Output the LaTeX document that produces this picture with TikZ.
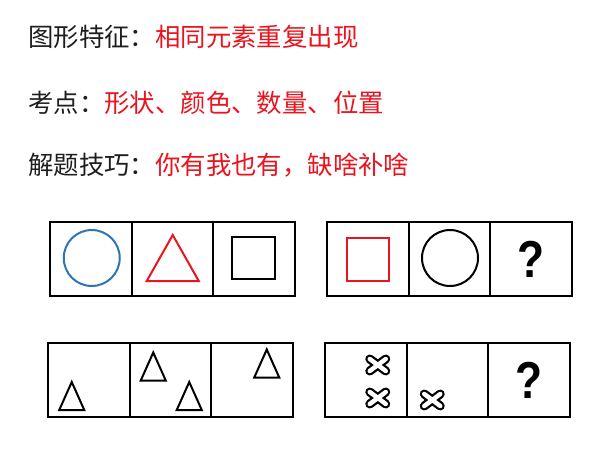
\documentclass[tikz,border=0pt]{standalone}
\usepackage{fontspec}
\newfontfamily\cjk{Noto Sans CJK SC}
\newfontfamily\qfont{Liberation Sans}
\usetikzlibrary{positioning}
\definecolor{hintred}{HTML}{E8141E}
\definecolor{circblue}{HTML}{2E75B6}
\definecolor{inkgray}{HTML}{1E1E1E}

\begin{document}
\begin{tikzpicture}[
            x = 1pt, y = -1pt, % pixel grid, y downwards
            line join = miter,
            cell/.style = {
                draw = black,
                line width = 2pt,
                minimum width = 81.5pt,
                minimum height = 74pt,
                inner sep = 0pt,
                outer sep = 0pt
            },
            caption/.style = {
                anchor = west,
                inner sep = 0pt,
                text = inkgray,
                font = \cjk\fontsize{25.4}{30}\selectfont
            },
            qmark/.style = {
                font = \qfont\bfseries\fontsize{52}{52}\selectfont
            },
            figline/.style = {line width = 2pt},
            tri/.pic = {
                \draw[figline] (-12.5,14) -- (0,-14) -- (12.5,14) -- cycle;
            },
            cross/.pic = {
                \draw[line width = 9pt, line cap = round]
                    (-8,-6) -- (8,6) (-8,6) -- (8,-6);
                \draw[white, line width = 4.5pt, line cap = round]
                    (-8,-6) -- (8,6) (-8,6) -- (8,-6);
            }
        ]

        \useasboundingbox (0,0) rectangle (604,454);

        % the three lines of text
        \node[caption] (feature) at (28,37) {图形特征：\textcolor{hintred}{相同元素重复出现}};
        \node[caption] (point) at (28,103) {考点：\textcolor{hintred}{形状、颜色、数量、位置}};
        \node[caption] (trick) at (28,165) {解题技巧：\textcolor{hintred}{你有我也有，缺啥补啥}};

        % first pair of rows
        \node[cell] (a1) at (90.75,259) {};
        \node[cell, right = 0pt of a1] (a2) {};
        \node[cell, right = 0pt of a2] (a3) {};

        \node[cell] (c1) at (367.75,259) {};
        \node[cell, right = 0pt of c1] (c2) {};
        \node[cell, right = 0pt of c2, qmark] (c3) {\scalebox{0.85}[1]{?}};

        \draw[figline, circblue] (a1.center) ++(1,-1) circle (28);
        \draw[figline, hintred] (a2.center) ++(-25.5,22) -- ++(26,-46) -- ++(26,46) -- cycle;
        \draw[figline] (a3.center) ++(-21.5,-22) rectangle ++(43,42);
        \draw[figline, hintred] (c1.center) ++(-21,-21) rectangle ++(42,43);
        \draw[figline] (c2.center) ++(0.75,-1) circle (28);

        % second pair of rows
        \node[cell] (b1) at (88.75,380) {};
        \node[cell, right = 0pt of b1] (b2) {};
        \node[cell, right = 0pt of b2] (b3) {};

        \node[cell] (d1) at (365.75,380) {};
        \node[cell, right = 0pt of d1] (d2) {};
        \node[cell, right = 0pt of d2, qmark] (d3) {\scalebox{0.85}[1]{?}};

        \pic at ([shift={(-17,16)}]b1.center) {tri};
        \pic at ([shift={(-17,-13.5)}]b2.center) {tri};
        \pic at ([shift={(19,16)}]b2.center) {tri};
        \pic at ([shift={(15,-16.5)}]b3.center) {tri};

        \pic at ([shift={(12,-15)}]d1.center) {cross};
        \pic at ([shift={(12,18)}]d1.center) {cross};
        \pic at ([shift={(-15,20)}]d2.center) {cross};
    \end{tikzpicture}
\end{document}
